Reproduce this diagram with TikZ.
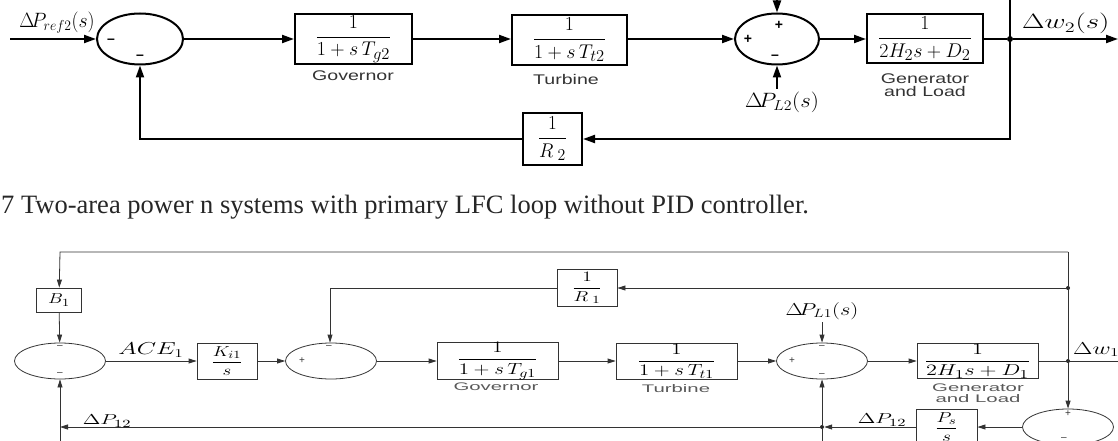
\documentclass[tikz,border=0pt]{standalone}
\usepackage{graphicx}
\usepackage{fontspec}
\setmainfont{Liberation Serif}
\setsansfont{Liberation Sans}
\usetikzlibrary{arrows.meta,shapes.geometric}
\newcommand{\hst}[2]{\scalebox{#1}[1]{#2}}
\newcommand{\tfr}[2]{\scalebox{1.15}[1.15]{$\displaystyle\frac{#1}{#2}$}}
\newcommand{\bfr}[2]{\scalebox{1.45}[1.12]{$\displaystyle\frac{#1}{#2}$}}
\begin{document}
\begin{tikzpicture}[x=1pt,y=-1pt,
  tl/.style={line width=2pt},
  bl/.style={line width=0.8pt, draw=black!80},
  tarr/.style={tl,-{Triangle[length=12pt,width=8pt]}},
  barr/.style={bl,-{Triangle[length=8pt,width=5pt]}},
  tbox/.style={draw, line width=2pt, inner sep=0pt, font=\fontsize{19}{22}\selectfont},
  bbox/.style={draw=black!80, line width=0.8pt, inner sep=0pt, font=\fontsize{15}{17}\selectfont},
  tsum/.style={ellipse, draw, line width=2pt, inner sep=0pt, minimum width=86pt, minimum height=51pt},
  bsum/.style={ellipse, draw=black!80, line width=0.8pt, inner sep=0pt, minimum width=91pt, minimum height=36pt},
  tlab/.style={font=\sffamily\fontsize{14}{13}\selectfont, text=black!80, align=center, inner sep=0pt},
  blab/.style={font=\sffamily\fontsize{11}{10.5}\selectfont, text=black!65, align=center, inner sep=0pt},
  tmath/.style={inner sep=0pt},
  tsign/.style={font=\sffamily\bfseries\fontsize{14}{14}\selectfont, inner sep=0pt},
  bsign/.style={font=\sffamily\fontsize{10}{10}\selectfont, inner sep=0pt, text=black!80},
  tdot/.style={circle, fill, inner sep=0pt, minimum size=6pt},
  bdot/.style={circle, fill=black!85, inner sep=0pt, minimum size=4pt},
]
\useasboundingbox (0,0) rectangle (1118,441);
\clip (0,0) rectangle (1118,441);

% ---------------- top diagram ----------------
\coordinate (in2) at (10,39);
\node[tsum] (s1) at (140,39) {};
\node[tbox, minimum width=117pt, minimum height=50pt] (g2) at (353.5,39) {\tfr{1}{1+s\,T_{g2}}};
\node[tbox, minimum width=115pt, minimum height=50pt] (t2) at (569.5,40) {\tfr{1}{1+s\,T_{t2}}};
\node[tsum, minimum width=84pt] (s2) at (777,39) {};
\node[tbox, minimum width=116pt, minimum height=49pt] (gl2) at (925,39) {\tfr{1}{2H_2s+D_2}};
\node[tdot] (o2) at (1010,39) {};
\coordinate (out2) at (1118,39);
\coordinate (top2) at (1010,0);
\coordinate (c2) at (1010,139);
\node[tbox, minimum width=59pt, minimum height=52pt] (r2) at (552.5,139) {\scalebox{1.1}[1.15]{$\displaystyle\frac{1}{R_{\;2}}$}};
\coordinate (c1) at (140,139);
\coordinate (pt2) at (777,0);
\coordinate (pl2) at (777,89);

\draw[tarr] (in2) -- (s1);
\draw[tarr] (s1) -- (g2);
\draw[tarr] (g2) -- (g2.east -| t2.west);
\draw[tarr] (t2.east |- s2) -- (s2);
\draw[tarr] (s2) -- (gl2);
\draw[tl] (gl2) -- (o2);
\draw[tarr] (o2) -- (out2);
\draw[tarr] (top2) -- (c2) -- (r2);
\draw[tarr] (r2) -- (c1) -- (s1);
\draw[tarr] (pt2) -- (s2);
\draw[tarr] (pl2) -- (s2);

\node[tmath, font=\fontsize{22}{24}\selectfont] (lref) at (57,23) {\hst{0.95}{$\Delta\!P_{ref2}(s)$}};
\node[tmath, font=\fontsize{21}{23}\selectfont] (lpl2) at (782,102) {\hst{1.1}{$\Delta\!P_{L2}(s)$}};
\node[tmath, anchor=base west, font=\fontsize{21}{22}\selectfont] (lw2) at (1022,29) {\hst{1.4}{$\Delta w_2(s)$}};
\node[tlab] (lg2) at (353,76) {\hst{1.4}{Governor}};
\node[tlab] (lt2) at (566,79) {\hst{1.4}{Turbine}};
\node[tlab] (lgl2) at (925,85) {\hst{1.4}{Generator}\\\hst{1.4}{and Load}};

\node[tsign] (m1) at (111,41) {\textendash};
\node[tsign] (m2) at (140,57) {\textendash};
\node[tsign] (p1) at (748,39) {+};
\node[tsign] (p2) at (779,25) {+};
\node[tsign] (m3) at (775,57) {\textendash};

% ---------------- caption ----------------
\node[anchor=base west, inner sep=0pt, text=black!85, font=\fontsize{26.5}{30}\selectfont] (cap) at (1,213)
  {7 Two-area power n systems with primary LFC loop without PID controller.};

% ---------------- bottom diagram ----------------
\coordinate (tlc) at (60,252);
\coordinate (trc) at (1068,252);
\node[bbox, minimum width=45pt, minimum height=24pt] (b1) at (59,300) {\hst{1.3}{$B_1$}};
\node[bsum] (s3) at (60,361) {};
\node[bbox, minimum width=60pt, minimum height=36pt] (ki) at (227,361) {\hst{1.3}{$\displaystyle\frac{K_{i1}}{s}$}};
\node[bsum] (s4) at (331,361) {};
\coordinate (r1l) at (330,288);
\node[bbox, minimum width=60pt, minimum height=37pt] (r1) at (587,288) {\hst{1.35}{$\displaystyle\frac{1}{R_{\;1}}$}};
\node[bdot] (r1r) at (1068,288) {};
\node[bbox, minimum width=121pt, minimum height=36pt] (g1) at (497.5,361) {\bfr{1}{1+s\,T_{g1}}};
\node[bbox, minimum width=121pt, minimum height=36pt] (t1) at (676.5,361) {\bfr{1}{1+s\,T_{t1}}};
\node[bsum] (s5) at (822,361) {};
\node[bbox, minimum width=121pt, minimum height=35pt] (gl1) at (977.5,361) {\scalebox{1.55}[1.1]{$\displaystyle\frac{1}{2H_1s+D_1}$}};
\node[bdot] (o1) at (1068,361) {};
\coordinate (out1) at (1118,361);
\node[bsum] (s6) at (1068,427) {};
\node[bbox, minimum width=61pt, minimum height=36pt] (ps) at (946.5,427) {\hst{1.35}{$\displaystyle\frac{P_s}{s}$}};
\node[bdot] (j1) at (822,427) {};
\coordinate (j1b) at (822,441);
\coordinate (l1) at (60,427);
\coordinate (l1b) at (60,441);
\coordinate (pl1) at (822,322);

\draw[barr] (trc) -- (tlc) -- (b1);
\draw[barr] (trc) -- (s6);
\draw[barr] (b1) -- (s3);
\draw[barr] (s3) -- (ki);
\draw[barr] (ki) -- (s4);
\draw[barr] (r1r) -- (r1);
\draw[barr] (r1) -- (r1l) -- (r1l |- s4.north);
\draw[barr] (s4) -- (g1);
\draw[barr] (g1) -- (t1);
\draw[barr] (t1) -- (s5);
\draw[barr] (pl1) -- (s5);
\draw[barr] (s5) -- (gl1);
\draw[bl] (gl1) -- (out1);
\draw[barr] (s6) -- (ps);
\draw[barr] (ps) -- (j1);
\draw[barr] (j1) -- (s5);
\draw[barr] (j1) -- (l1);
\draw[bl] (j1b) -- (j1);
\draw[barr] (l1b) -- (s3);

\node[tmath, font=\fontsize{17}{19}\selectfont] (lace) at (151,350) {\hst{1.45}{$ACE_1$}};
\node[tmath, font=\fontsize{17}{19}\selectfont] (lpl1) at (822,311) {\hst{1.3}{$\Delta\!P_{L1}(s)$}};
\node[tmath, font=\fontsize{15}{17}\selectfont] (lp12a) at (107,421) {\hst{1.5}{$\Delta P_{12}$}};
\node[tmath, font=\fontsize{15}{17}\selectfont] (lp12b) at (882,420) {\hst{1.5}{$\Delta P_{12}$}};
\node[tmath, anchor=base west, font=\fontsize{17}{18}\selectfont] (lw1) at (1073,354) {\hst{1.45}{$\Delta w_1(s)$}};
\node[blab] (lg1) at (496,387) {\hst{1.85}{Governor}};
\node[blab] (lt1) at (676,389) {\hst{1.85}{Turbine}};
\node[blab] (lgl1) at (978,393) {\hst{1.85}{Generator}\\\hst{1.85}{and Load}};

\node[bsign] (n1) at (60,347) {\textendash};
\node[bsign] (n2) at (60,374) {\textendash};
\node[bsign] (n3) at (302,361) {+};
\node[bsign] (n4) at (329,347) {\textendash};
\node[bsign] (n5) at (792,361) {+};
\node[bsign] (n6) at (822,347) {\textendash};
\node[bsign] (n7) at (822,375) {\textendash};
\node[bsign] (n8) at (1068,414) {+};
\node[bsign] (n9) at (1064,439) {\textendash};
\end{tikzpicture}
\end{document}
